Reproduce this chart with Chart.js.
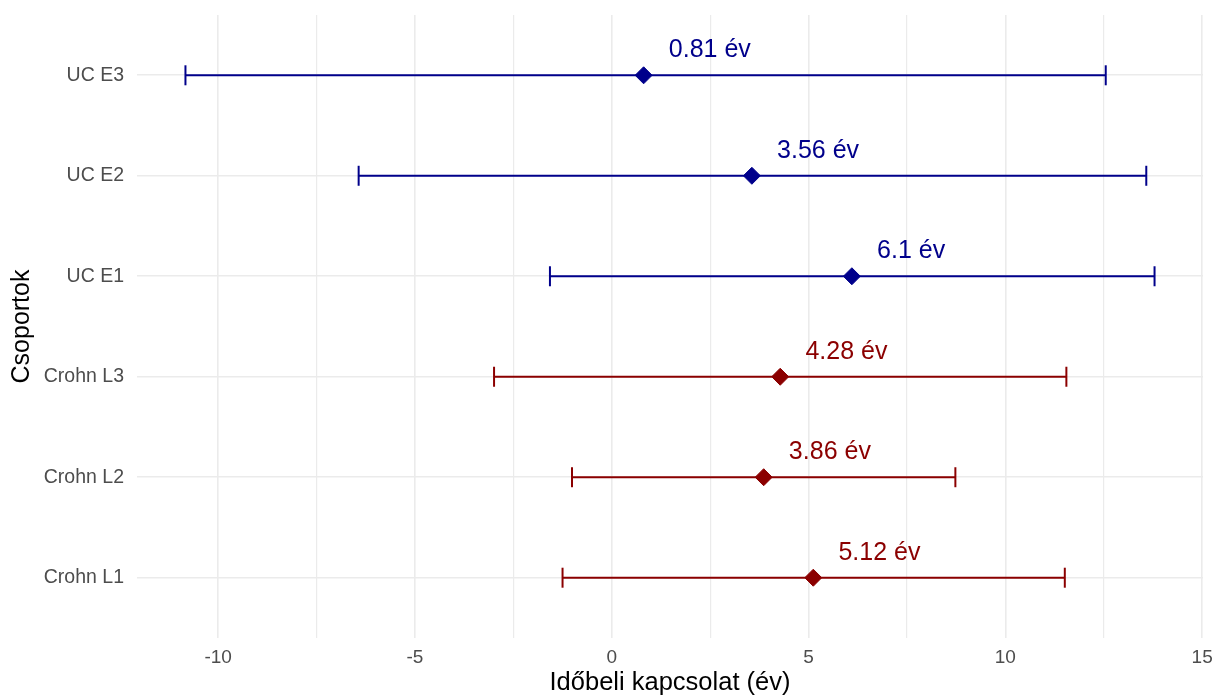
<!DOCTYPE html>
<html>
<head>
<meta charset="utf-8">
<script src="https://cdn.jsdelivr.net/npm/chart.js@4.4.1/dist/chart.umd.min.js"></script>
<style>
  html, body { margin: 0; padding: 0; background: #fff; }
  #wrap { width: 1215px; height: 696px; position: relative; }
</style>
</head>
<body>
<div id="wrap"><canvas id="lagChart"></canvas></div>
<script>
// groups from bottom to top
const groups = ['Crohn L1', 'Crohn L2', 'Crohn L3', 'UC E1', 'UC E2', 'UC E3'];
const diseases = ['Crohn', 'Crohn', 'Crohn', 'UC', 'UC', 'UC'];
const estimates = [5.12, 3.86, 4.28, 6.1, 3.56, 0.81];
const lower = [-1.25, -1.01, -2.99, -1.57, -6.43, -10.83];
const upper = [11.51, 8.73, 11.55, 13.79, 13.58, 12.55];
const xTicks = [-10, -7.5, -5, -2.5, 0, 2.5, 5, 7.5, 10, 12.5, 15];
const xLabels = [-10, -5, 0, 5, 10, 15];

const colorOf = { Crohn: '#8B0000', UC: '#00008B' };
const font = 'Liberation Sans, Arial, sans-serif';

// ggplot-like 5% expansion of the x range
const lo = Math.min(...lower), hi = Math.max(...upper);
const pad = (hi - lo) * 0.05;

const diamonds = {
    label: 'becslés',
    data: groups.map((g, i) => ({ x: estimates[i], y: i + 1 })),
    pointStyle: 'rectRot',
    pointRadius: 8.5,
    pointHoverRadius: 8.5,
    pointBackgroundColor: diseases.map(d => colorOf[d]),
    pointBorderColor: diseases.map(d => colorOf[d]),
    pointBorderWidth: 1
};

const whiskers = groups.map((g, i) => ({
    label: g,
    data: [{ x: lower[i], y: i + 1 }, { x: upper[i], y: i + 1 }],
    showLine: true,
    borderColor: colorOf[diseases[i]],
    borderWidth: 2,
    pointStyle: 'line',
    rotation: 90,
    pointRadius: 10,
    pointHoverRadius: 10,
    pointBorderWidth: 2,
    pointBorderColor: colorOf[diseases[i]]
}));

const valueLabels = {
    id: 'valueLabels',
    afterDatasetsDraw(chart) {
        const { ctx, scales: { x, y } } = chart;
        ctx.save();
        ctx.font = '25px ' + font;
        ctx.textAlign = 'left';
        ctx.textBaseline = 'middle';
        estimates.forEach((v, i) => {
            ctx.fillStyle = colorOf[diseases[i]];
            ctx.fillText(v + ' év', x.getPixelForValue(v + 0.64), y.getPixelForValue(i + 1) - 25);
        });
        ctx.restore();
    }
};

new Chart(document.getElementById('lagChart'), {
    type: 'scatter',
    data: { datasets: [diamonds, ...whiskers] },
    options: {
        responsive: true,
        maintainAspectRatio: false,
        animation: false,
        layout: { padding: { top: 15, right: 5, left: 0, bottom: 0 } },
        plugins: {
            legend: { display: false },
            tooltip: { enabled: false }
        },
        scales: {
            x: {
                type: 'linear',
                min: lo - pad,
                max: hi + pad,
                afterBuildTicks: scale => { scale.ticks = xTicks.map(v => ({ value: v })); },
                afterFit: scale => {
                    scale.height = 58;
                    scale.paddingLeft = 0;
                    scale.paddingRight = 0;
                },
                border: { display: false },
                grid: {
                    color: '#ebebeb',
                    lineWidth: ctx => (ctx.tick && xLabels.includes(ctx.tick.value)) ? 1.6 : 1.2,
                    drawTicks: false
                },
                ticks: {
                    autoSkip: false,
                    maxRotation: 0,
                    padding: 8,
                    color: '#4d4d4d',
                    font: { family: font, size: 19 },
                    callback: v => xLabels.includes(v) ? String(v) : ''
                },
                title: {
                    display: true,
                    text: 'Időbeli kapcsolat (év)',
                    color: '#000',
                    font: { family: font, size: 25.5, lineHeight: 1 },
                    padding: 0
                }
            },
            y: {
                type: 'linear',
                min: 0.4,
                max: 6.6,
                afterBuildTicks: scale => { scale.ticks = groups.map((g, i) => ({ value: i + 1 })); },
                afterFit: scale => {
                    scale.width = 137;
                    scale.paddingTop = 0;
                    scale.paddingBottom = 0;
                },
                border: { display: false },
                grid: { color: '#ebebeb', lineWidth: 1.6, drawTicks: false },
                ticks: {
                    padding: 13,
                    color: '#4d4d4d',
                    font: { family: font, size: 19.5 },
                    callback: v => groups[v - 1]
                },
                title: {
                    display: true,
                    text: 'Csoportok',
                    color: '#000',
                    font: { family: font, size: 25, lineHeight: 1 },
                    padding: { top: 10, bottom: 0 }
                }
            }
        }
    },
    plugins: [valueLabels]
});
</script>
</body>
</html>
